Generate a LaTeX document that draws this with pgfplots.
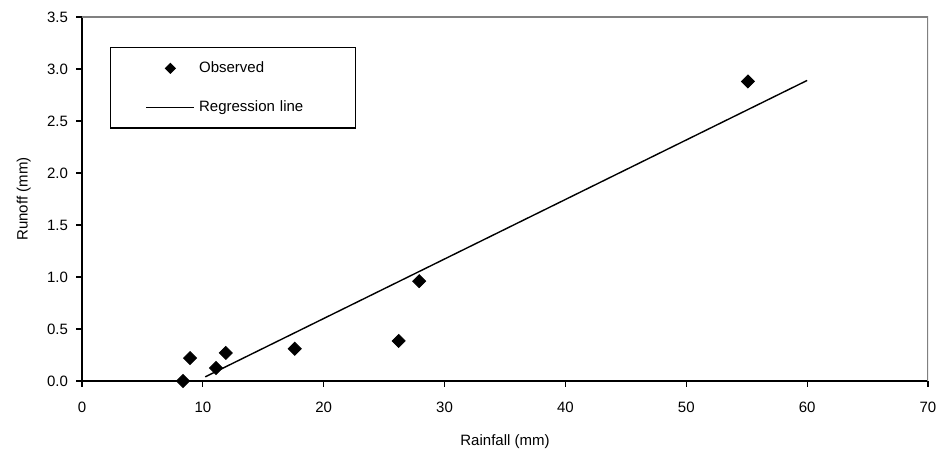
\documentclass[border=0pt]{standalone}
\usepackage{pgfplots}
\pgfplotsset{compat=1.18}
\usepackage{fontspec}
\setmainfont{Liberation Sans}
\begin{document}
\fontsize{7.5}{9}\selectfont
\begin{tikzpicture}
\begin{axis}[
  scale only axis, width=423pt, height=182pt,
  xmin=0, xmax=70, ymin=0, ymax=3.5,
  xtick={0,10,...,70}, ytick={0,0.5,...,3.5},
  yticklabel style={xshift=-1.5pt,/pgf/number format/.cd,fixed,fixed zerofill,precision=1},
  /pgf/number format/assume math mode=true,
  tick align=outside, tick pos=left,
  major tick length=2.8pt,
  tick style={black, line width=0.6pt},
  axis line style={line width=0.8pt},
  separate axis lines,
  x axis line style={black},
  y axis line style={black},
  axis x line*=bottom, axis y line*=left,
  xticklabel style={yshift=-5pt},
  xlabel={Rainfall (mm)}, ylabel={Runoff (mm)},
  xlabel style={yshift=-6pt}, ylabel style={yshift=3pt},
  ticklabel style={font=\fontsize{7.5}{9}\selectfont},
  label style={font=\fontsize{7.5}{9}\selectfont},
  legend style={at={(axis cs:2.3,3.21)}, anchor=north west, draw=black,
    line width=0.6pt, font=\fontsize{7.5}{9}\selectfont,
    inner xsep=0pt, inner ysep=5pt, row sep=9pt,
    cells={anchor=west}, text width=76pt},
  legend cell align=left,
]
\addlegendimage{legend image code/.code={\path[draw=none,fill=none] (0pt,-2pt) rectangle (42pt,2pt); \fill[black,rotate around={45:(30pt,0pt)}] (28.3pt,-1.7pt) rectangle (31.7pt,1.7pt);}}
\addlegendentry{Observed}
\addlegendimage{legend image code/.code={\path[draw=none,fill=none] (0pt,-2pt) rectangle (42pt,2pt); \draw[black, line width=0.7pt] (18pt,0pt) -- (42pt,0pt);}}
\addlegendentry{Regression line}
\addplot[forget plot, only marks, mark=square*, mark size=2.3pt, mark options={fill=black, draw=black, rotate=45}]
  coordinates {(8.36,0.0) (8.94,0.22) (11.09,0.125) (11.9,0.27) (17.6,0.31) (26.2,0.385) (27.9,0.96) (55.1,2.88)};
\addplot[forget plot, black, line width=0.7pt] coordinates {(10.2,0.04) (60,2.89)};
\draw[gray, line width=0.8pt] (axis cs:0,3.5) -- (axis cs:70,3.5) -- (axis cs:70,0);
\end{axis}
\path ([xshift=-41pt,yshift=-41.5pt]current axis.south west) rectangle ([xshift=9.5pt,yshift=8.5pt]current axis.north east);
\end{tikzpicture}
\end{document}
